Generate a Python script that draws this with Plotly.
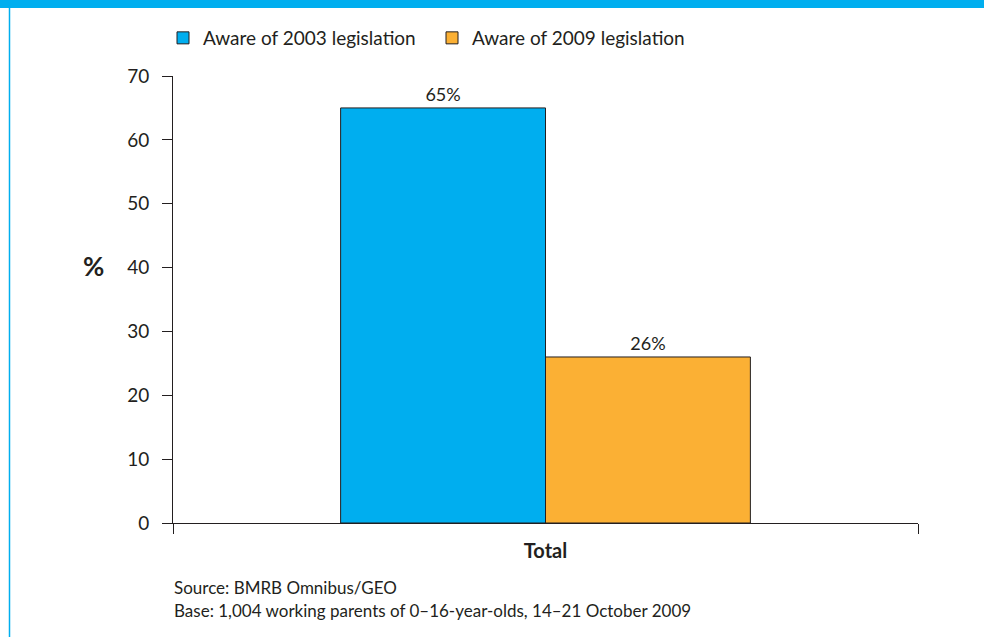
import plotly.graph_objects as go

categories = ["<b>Total</b>"]
series_names = ["Aware of 2003 legislation", "Aware of 2009 legislation"]
values_2003 = [65]
values_2009 = [26]
colors = ["#00AEEF", "#FBB034"]

FONT = "Lato, 'Open Sans', sans-serif"
TXT = "#231F20"

W, H = 984, 637
L, R, T, B = 173, 66, 76, 114
PW, PH = W - L - R, H - T - B

def px_x(x):
    return (x - L) / PW

def px_y(y):
    return (H - B - y) / PH

fig = go.Figure()
for name, vals, col in zip(series_names, [values_2003, values_2009], colors):
    fig.add_trace(go.Bar(
        x=categories, y=vals, name=name,
        marker=dict(color=col, line=dict(color="#231F20", width=1)),
        text=[f"{v}%" for v in vals], textposition="outside",
        textfont=dict(family=FONT, size=18, color=TXT),
        cliponaxis=False,
    ))

fig.update_layout(
    width=W, height=H,
    margin=dict(l=L, r=R, t=T, b=B),
    paper_bgcolor="white", plot_bgcolor="white",
    barmode="group", bargap=0.45, bargroupgap=0,
    font=dict(family=FONT, size=18, color=TXT),
    showlegend=True,
    legend=dict(orientation="h", x=px_x(163), xanchor="left", y=px_y(38), yanchor="middle",
                font=dict(family=FONT, size=19, color=TXT),
                traceorder="normal", itemwidth=30, entrywidth=224, entrywidthmode="pixels"),
    xaxis=dict(showline=True, linecolor="#231F20", linewidth=1, ticks="outside",
               tickson="boundaries", ticklen=10, tickcolor="#231F20", showgrid=False,
               tickfont=dict(family=FONT, size=20, color=TXT), range=[-0.5, 0.5],
               ticklabelstandoff=10),
    yaxis=dict(showline=True, linecolor="#231F20", linewidth=1, ticks="outside",
               ticklen=10, tickcolor="#231F20", showgrid=False, range=[0, 70], dtick=10,
               tickfont=dict(family=FONT, size=19, color=TXT), zeroline=False,
               ticklabelstandoff=9),
)

# percent axis title
fig.add_annotation(text="<b>%</b>", xref="paper", yref="paper", x=px_x(93), y=px_y(266),
                   xanchor="center", yanchor="middle",
                   showarrow=False, font=dict(family=FONT, size=26, color=TXT))
# source notes
fig.add_annotation(text="Source: BMRB Omnibus/GEO", xref="paper", yref="paper",
                   x=px_x(172), y=px_y(587), xanchor="left", yanchor="middle",
                   showarrow=False, font=dict(family=FONT, size=17, color=TXT))
fig.add_annotation(text="Base: 1,004 working parents of 0–16-year-olds, 14–21 October 2009",
                   xref="paper", yref="paper",
                   x=px_x(172), y=px_y(610), xanchor="left", yanchor="middle",
                   showarrow=False, font=dict(family=FONT, size=17, color=TXT))

# header strip and left border
fig.add_shape(type="rect", xref="paper", yref="paper", x0=px_x(0), x1=px_x(W),
              y0=px_y(8), y1=px_y(0), fillcolor="#00AEEF", line=dict(width=0), layer="below")
fig.add_shape(type="line", xref="paper", yref="paper", x0=px_x(9.5), x1=px_x(9.5),
              y0=px_y(8), y1=px_y(H), line=dict(color="#00AEEF", width=1.5))

fig.write_html("out.html", config={"displayModeBar": False},
               post_script="document.body.style.margin='0';")
